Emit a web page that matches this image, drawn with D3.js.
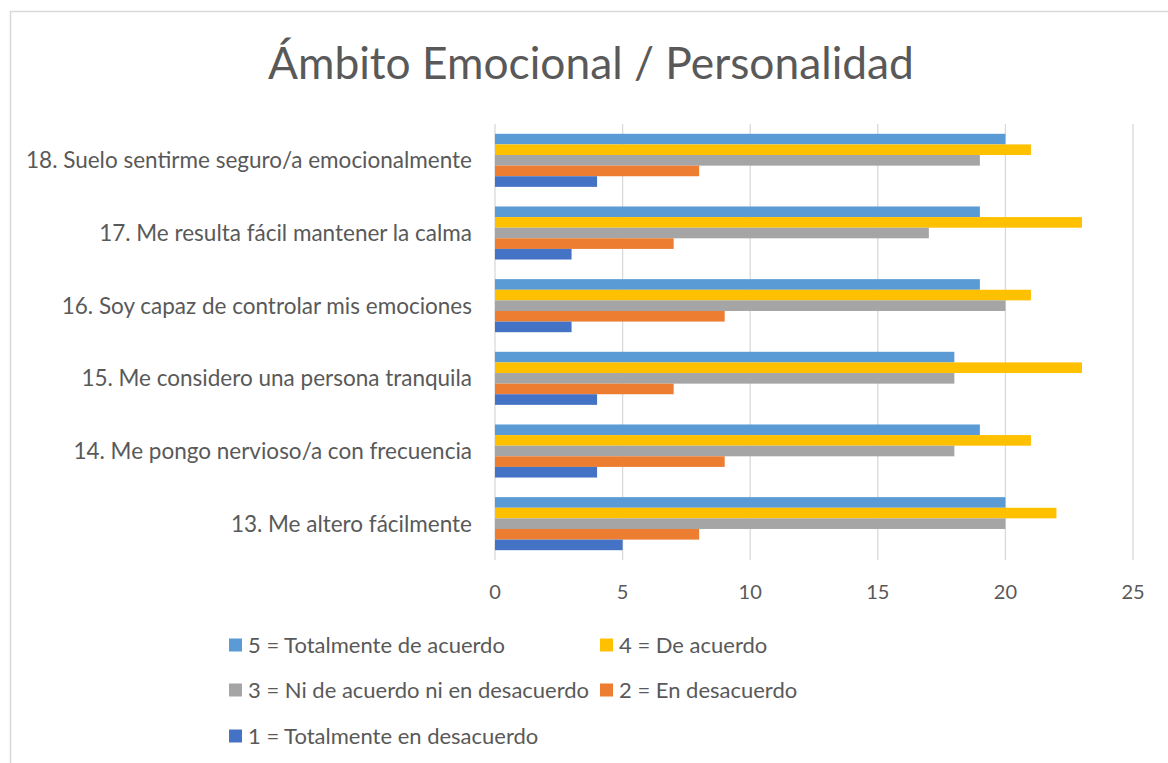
<!DOCTYPE html>
<html>
<head>
<meta charset="utf-8">
<script src="https://cdn.jsdelivr.net/npm/d3@7"></script>
<style>
  body { margin: 0; background: #fff; }
  svg text { font-family: Lato, "Open Sans", sans-serif; fill: #595959; }
</style>
</head>
<body>
<svg id="chart" width="1168" height="763"></svg>
<script>
// ── Data ─────────────────────────────────────────────
const categories = [
  "18. Suelo sentirme seguro/a emocionalmente",
  "17. Me resulta fácil mantener la calma",
  "16. Soy capaz de controlar mis emociones",
  "15. Me considero una persona tranquila",
  "14. Me pongo nervioso/a con frecuencia",
  "13. Me altero fácilmente"
];
const seriesNames = [
  "5 = Totalmente de acuerdo",
  "4 = De acuerdo",
  "3 = Ni de acuerdo ni en desacuerdo",
  "2 = En desacuerdo",
  "1 = Totalmente en desacuerdo"
];
const seriesColors = ["#5b9bd5", "#ffc000", "#a5a5a5", "#ed7d31", "#4472c4"];
// values per series, in category order (18 → 13)
const s5 = [20, 19, 19, 18, 19, 20];
const s4 = [21, 23, 21, 23, 21, 22];
const s3 = [19, 17, 20, 18, 18, 20];
const s2 = [8, 7, 9, 7, 9, 8];
const s1 = [4, 3, 3, 4, 4, 5];
const xTicks = [0, 5, 10, 15, 20, 25];

const series = [s5, s4, s3, s2, s1];

const svg = d3.select("#chart");

// chart border
svg.append("rect")
  .attr("x", 10.5).attr("y", 11.5)
  .attr("width", 1200).attr("height", 800)
  .attr("fill", "none").attr("stroke", "#d9d9d9").attr("stroke-width", 1.5);

// title
svg.append("text")
  .attr("x", 591).attr("y", 79)
  .attr("text-anchor", "middle")
  .attr("font-size", 44.3)
  .text("Ámbito Emocional / Personalidad");

const plotL = 495, plotR = 1133, plotT = 124, plotB = 560;

const x = d3.scaleLinear().domain([0, 25]).range([plotL, plotR]);
const y = d3.scaleBand().domain(categories).range([plotT, plotB])
  .paddingInner(0.27).paddingOuter(0.135);
const ySub = d3.scaleBand().domain(d3.range(series.length)).range([0, y.bandwidth()]);

// gridlines
svg.append("g")
  .selectAll("line").data(xTicks).enter().append("line")
  .attr("x1", d => x(d)).attr("x2", d => x(d))
  .attr("y1", plotT).attr("y2", plotB)
  .attr("stroke", "#d9d9d9").attr("stroke-width", 1.3);

// bars
series.forEach((vals, si) => {
  svg.append("g")
    .selectAll("rect").data(vals).enter().append("rect")
    .attr("x", x(0))
    .attr("y", (d, i) => y(categories[i]) + ySub(si))
    .attr("width", d => x(d) - x(0))
    .attr("height", ySub.bandwidth())
    .attr("fill", seriesColors[si]);
});

// x tick labels
svg.append("g")
  .selectAll("text").data(xTicks).enter().append("text")
  .attr("x", d => x(d)).attr("y", 592)
  .attr("dy", "0.35em")
  .attr("text-anchor", "middle")
  .attr("font-size", 20)
  .text(d => d);

// category labels
svg.append("g")
  .selectAll("text").data(categories).enter().append("text")
  .attr("x", 472)
  .attr("y", d => y(d) + y.bandwidth() / 2)
  .attr("dy", "0.35em")
  .attr("text-anchor", "end")
  .attr("font-size", 22.5)
  .text(d => d);

// legend
const legendPos = [[229, 645], [600, 645], [229, 690], [600, 690], [229, 736]];
const lg = svg.append("g").selectAll("g").data(seriesNames).enter().append("g")
  .attr("transform", (d, i) => `translate(${legendPos[i][0]},${legendPos[i][1]})`);
lg.append("rect")
  .attr("x", 0).attr("y", -6.5).attr("width", 13).attr("height", 13)
  .attr("fill", (d, i) => seriesColors[i]);
lg.append("text")
  .attr("x", 19).attr("dy", "0.35em")
  .attr("font-size", 22)
  .text(d => d);
</script>
</body>
</html>
